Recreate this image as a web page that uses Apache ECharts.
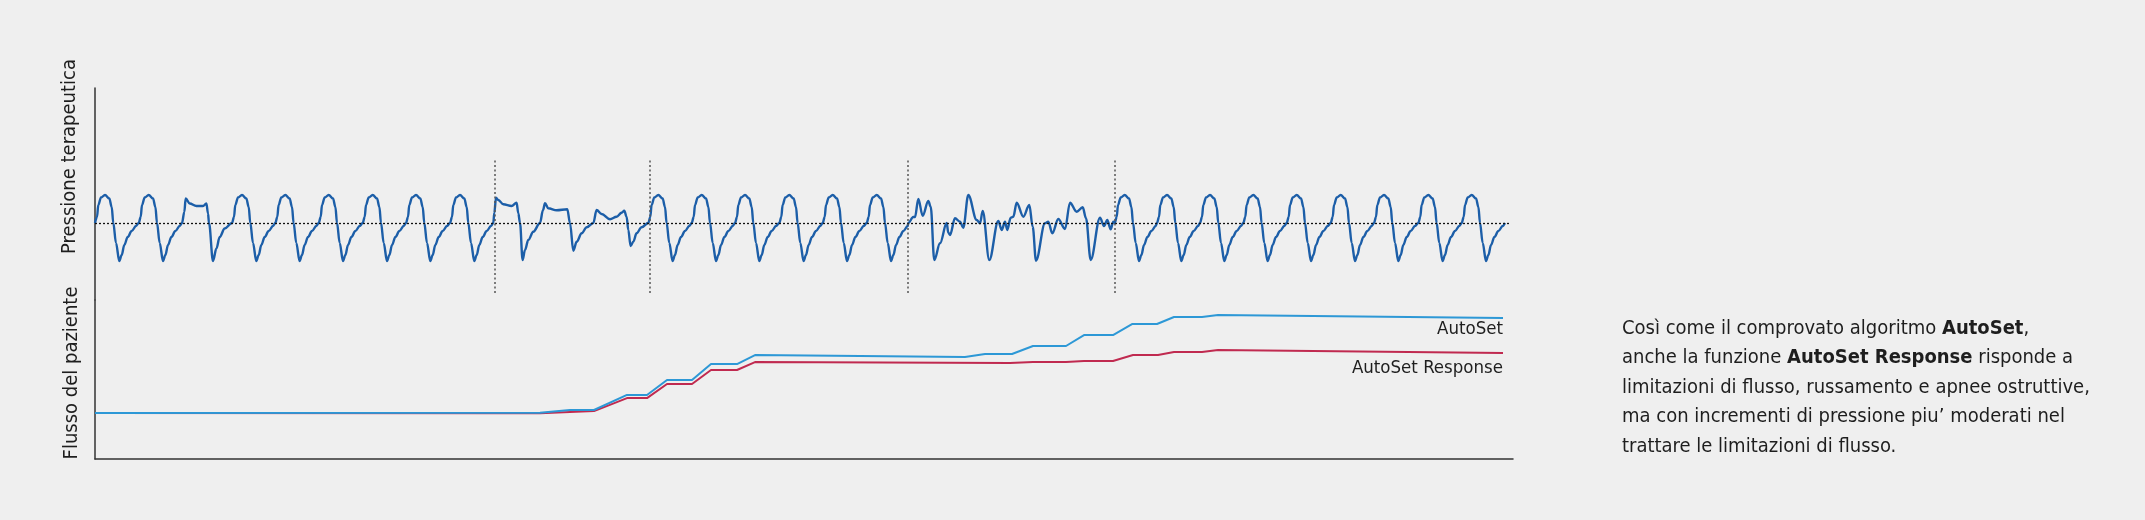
<!DOCTYPE html>
<html style="height: 100%">
<head>
    <meta charset="utf-8">
</head>
<body style="height: 100%; margin: 0; background: #efefef">
    <div id="container" style="width: 2145px; height: 520px"></div>
    <script src="https://cdn.jsdelivr.net/npm/echarts@6/dist/echarts.min.js"></script>
    <script>
        // time in seconds from the left edge, flow in arbitrary units (0 = baseline)
        const breathNormal = [[0, 0], [0.2, 0.6], [0.33, 1.8], [0.6, 2.55], [1.0, 2.8], [1.43, 2.45], [1.67, 1.6],
            [1.83, 0], [2.1, -2.0], [2.43, -3.8], [2.67, -3.2], [2.93, -2.2], [3.27, -1.4], [3.67, -0.8], [4.1, -0.3]];
        const breathFlatA = [[0, 0], [0.23, 1.1], [0.37, 2.45], [0.77, 1.95], [1.44, 1.7], [2.1, 1.7], [2.44, 1.95],
            [2.6, 0.95], [2.7, 0], [3.1, -3.8], [3.44, -2.55], [3.77, -1.4], [4.27, -0.55]];
        const breathFlatB = [[0, 0], [0.1, 1.0], [0.27, 2.53], [0.5, 2.3], [1.0, 1.87], [1.83, 1.7], [2.33, 2.03],
            [2.5, 0.97], [2.67, 0], [2.93, -3.7], [3.17, -2.7], [3.5, -1.7], [4.0, -0.87]];
        const breathFlatC = [[0, 0], [0.3, 1.3], [0.5, 1.97], [0.83, 1.47], [1.67, 1.27], [2.73, 1.37], [3.0, 0],
            [3.33, -2.77], [3.67, -1.87], [4.17, -1.03], [4.67, -0.43]];
        const breathDip = [[0, 0], [0.33, 1.3], [0.83, 0.9], [1.67, 0.37], [2.33, 0.63], [2.83, 1.03], [3.1, 1.23],
            [3.33, 0.63], [3.5, -0.7], [3.73, -2.3], [4.0, -1.87], [4.33, -1.03], [4.83, -0.43]];
        // snoring / obstructive section, absolute times
        const irregularBreaths = [[81.33, 0], [81.83, 0.6], [82.0, 0.6], [82.33, 2.4], [82.77, 0.73], [83.33, 2.2],
            [83.57, 1.63], [83.93, -3.7], [84.5, -2.03], [85.17, 0], [85.33, -0.97], [85.5, -1.2], [86.0, 0.47],
            [86.5, 0.13], [86.83, -0.47], [87.33, 2.8], [88.17, 0.3], [88.5, -0.03], [88.77, 1.2], [89.43, -3.7],
            [90.33, 0.2], [90.67, -0.7], [91.0, 0.13], [91.23, -0.7], [91.57, 0.53], [91.83, 0.63], [92.17, 2.03],
            [92.83, 0.63], [93.43, 1.8], [93.77, -0.37], [94.1, -3.77], [95.0, -0.03], [95.33, 0.13], [95.73, -1.03],
            [96.33, 0.4], [97.0, -0.6], [97.5, 2.03], [98.17, 1.13], [98.77, 1.57], [99.1, 0.47], [99.57, -3.7],
            [100.5, 0.53], [100.9, -0.3], [101.23, 0.3], [101.57, -0.63], [101.83, 0.13]];

        const breathStarts = [0, 4.37, 8.7, 13.7, 18.03, 22.37, 26.77, 31.1, 35.5, 39.83, 44.5, 49.83, 55.33, 59.67,
            64.0, 68.43, 72.77, 77.17, 81.33, 101.97, 106.2, 110.5, 114.83, 119.17, 123.57, 127.9, 132.33, 136.67];
        const breathTypes = ['N', 'N', 'A', 'N', 'N', 'N', 'N', 'N', 'N', 'B', 'C', 'D', 'N', 'N',
            'N', 'N', 'N', 'N', 'E', 'N', 'N', 'N', 'N', 'N', 'N', 'N', 'N', 'N'];
        const flowEnd = [141.0, 0];
        const dividerTimes = [40.0, 55.5, 81.3, 102.0];

        // therapy pressure steps (time s, cmH2O)
        const autoSetTime = [0, 44.5, 47.5, 49.9, 53.2, 55.2, 57.2, 59.7, 61.6, 64.2, 66.0, 87.0, 89.0, 91.7, 93.8,
            97.1, 98.9, 101.8, 103.7, 106.2, 107.9, 110.7, 112.3, 140.8];
        const autoSetPressure = [4.0, 4.03, 4.26, 4.26, 5.57, 5.57, 6.87, 6.87, 8.26, 8.26, 9.04, 8.87, 9.13, 9.13,
            9.83, 9.83, 10.78, 10.78, 11.74, 11.74, 12.35, 12.35, 12.52, 12.26];
        const responseTime = [0, 44.5, 49.9, 53.2, 55.2, 57.2, 59.7, 61.6, 64.2, 66.0, 91.5, 93.8, 97.1, 98.9,
            101.8, 103.8, 106.3, 107.9, 110.7, 112.3, 140.8];
        const responsePressure = [4.0, 3.97, 4.17, 5.3, 5.3, 6.52, 6.52, 7.74, 7.74, 8.43, 8.35, 8.43, 8.43, 8.52,
            8.52, 9.04, 9.04, 9.3, 9.3, 9.48, 9.22];

        const templates = { N: breathNormal, A: breathFlatA, B: breathFlatB, C: breathFlatC, D: breathDip };
        const flowData = [];
        breathStarts.forEach((start, i) => {
            const type = breathTypes[i];
            if (type === 'E') {
                irregularBreaths.forEach(p => flowData.push(p));
            } else {
                templates[type].forEach(p => flowData.push([+(start + p[0]).toFixed(2), p[1]]));
            }
        });
        flowData.push(flowEnd);

        const font = "'Liberation Sans Narrow', 'DejaVu Sans Condensed', 'Roboto', sans-serif";
        const textColor = '#1e1e1e';

        const pairs = (times, values) => times.map((t, i) => [t, values[i]]);
        const last = arr => arr[arr.length - 1];

        function endName(times, values, name, distance) {
            return {
                symbol: 'circle',
                symbolSize: 0,
                silent: true,
                data: [{ coord: [last(times), last(values)] }],
                label: {
                    show: true, formatter: name, position: 'bottom', distance: distance, align: 'right',
                    fontFamily: font, fontSize: 18.5, color: textColor
                }
            };
        }

        const dom = document.getElementById('container');
        const myChart = echarts.init(dom);

        const axisLine = { show: true, onZero: false, lineStyle: { color: '#333', width: 1.5 } };

        const option = {
            animation: false,
            backgroundColor: '#efefef',
            title: {
                left: 1622,
                top: 314,
                padding: 0,
                text: 'Così come il comprovato algoritmo {b|AutoSet},\n' +
                    'anche la funzione {b|AutoSet Response} risponde a\n' +
                    'limitazioni di flusso, russamento e apnee ostruttive,\n' +
                    'ma con incrementi di pressione piu’ moderati nel\n' +
                    'trattare le limitazioni di flusso.',
                textStyle: {
                    color: textColor,
                    fontFamily: font,
                    fontSize: 20,
                    fontWeight: 'normal',
                    lineHeight: 29.5,
                    rich: {
                        b: { fontFamily: font, fontSize: 20, fontWeight: 'bold', lineHeight: 29.5, color: textColor }
                    }
                }
            },
            graphic: [
                {
                    type: 'text', x: 70, y: 156.5, rotation: Math.PI / 2,
                    style: {
                        text: 'Pressione terapeutica', fill: textColor, fontFamily: font, fontSize: 20,
                        align: 'center', verticalAlign: 'middle', textAlign: 'center', textVerticalAlign: 'middle'
                    }
                },
                {
                    type: 'text', x: 72, y: 373, rotation: Math.PI / 2,
                    style: {
                        text: 'Flusso del paziente', fill: textColor, fontFamily: font, fontSize: 20,
                        align: 'center', verticalAlign: 'middle', textAlign: 'center', textVerticalAlign: 'middle'
                    }
                }
            ],
            grid: [
                { left: 95, right: 632, top: 88, height: 212 },
                { left: 95, right: 632, top: 300, height: 159 }
            ],
            xAxis: [
                { type: 'value', gridIndex: 0, min: 0, max: 141.8, show: false },
                {
                    type: 'value', gridIndex: 1, min: 0, max: 141.8,
                    axisLine: axisLine, axisTick: { show: false }, axisLabel: { show: false }, splitLine: { show: false }
                }
            ],
            yAxis: [
                {
                    type: 'value', gridIndex: 0, min: -7.7, max: 13.5,
                    axisLine: axisLine, axisTick: { show: false }, axisLabel: { show: false }, splitLine: { show: false }
                },
                {
                    type: 'value', gridIndex: 1, min: 0, max: 13.83,
                    axisLine: axisLine, axisTick: { show: false }, axisLabel: { show: false }, splitLine: { show: false }
                }
            ],
            series: [
                {
                    name: 'Flusso',
                    type: 'line',
                    xAxisIndex: 0,
                    yAxisIndex: 0,
                    data: flowData,
                    showSymbol: false,
                    smooth: 0.35,
                    smoothMonotone: 'x',
                    lineStyle: { color: '#1c5ea8', width: 2.4 },
                    z: 3,
                    markLine: {
                        silent: true,
                        symbol: ['none', 'none'],
                        label: { show: false },
                        data: [
                            [
                                { coord: [0, 0], lineStyle: { color: '#111', type: [2, 2], width: 1.3 } },
                                { coord: [141.5, 0] }
                            ],
                            ...dividerTimes.map(t => [
                                { coord: [t, -7.0], lineStyle: { color: '#555', type: [2, 2.5], width: 1.5 } },
                                { coord: [t, 6.5] }
                            ])
                        ]
                    }
                },
                {
                    name: 'AutoSet',
                    type: 'line',
                    xAxisIndex: 1,
                    yAxisIndex: 1,
                    data: pairs(autoSetTime, autoSetPressure),
                    showSymbol: false,
                    lineStyle: { color: '#2d98d6', width: 2 },
                    markPoint: endName(autoSetTime, autoSetPressure, 'AutoSet', 2),
                    z: 3
                },
                {
                    name: 'AutoSet Response',
                    type: 'line',
                    xAxisIndex: 1,
                    yAxisIndex: 1,
                    data: pairs(responseTime, responsePressure),
                    showSymbol: false,
                    lineStyle: { color: '#c02a50', width: 2 },
                    markPoint: endName(responseTime, responsePressure, 'AutoSet Response', 6),
                    z: 2
                }
            ]
        };

        myChart.setOption(option);
    </script>
</body>
</html>
